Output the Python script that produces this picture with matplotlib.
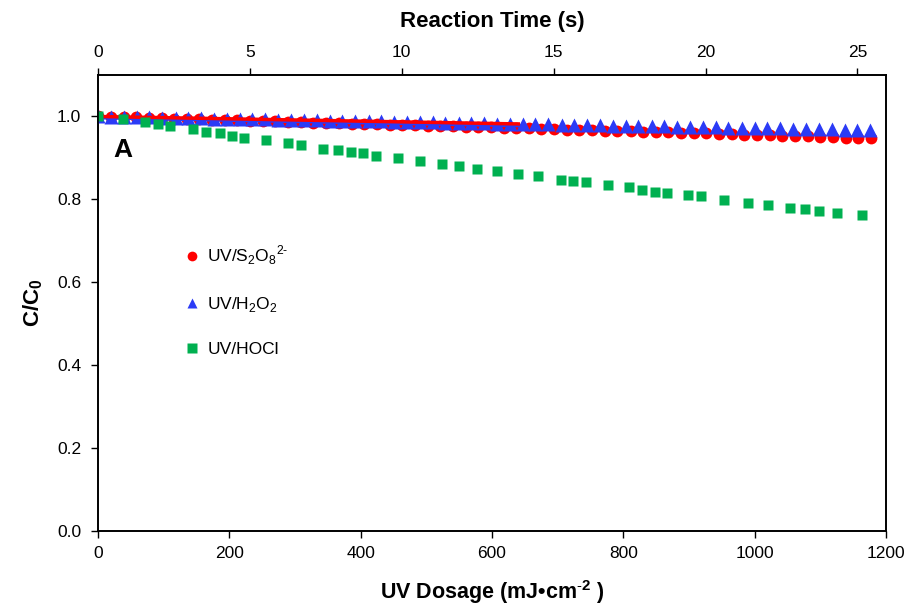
import matplotlib
matplotlib.use("Agg")
import matplotlib.pyplot as plt
from matplotlib.lines import Line2D

plt.rcParams['font.family'] = ['Liberation Sans', 'DejaVu Sans']
plt.rcParams['mathtext.fontset'] = 'custom'
plt.rcParams['mathtext.rm'] = 'Liberation Sans'
plt.rcParams['mathtext.bf'] = 'Liberation Sans:bold'

# UV/S2O8 2-
s2o8_dose = [0, 19, 39, 58, 77, 97, 116, 135, 154, 174, 193, 212, 232, 251, 270, 290,
	309, 328, 347, 367, 386, 405, 425, 444, 463, 482, 502, 521, 540, 560, 579, 598,
	618, 637, 656, 675, 695, 714, 733, 753, 772, 791, 811, 830, 849, 868, 888, 907,
	926, 946, 965, 984, 1004, 1023, 1042, 1061, 1081, 1100, 1119, 1139, 1158, 1177]
s2o8_c = [1.000, 0.999, 0.998, 0.998, 0.997, 0.996, 0.995, 0.994, 0.993, 0.992, 0.991,
	0.991, 0.990, 0.989, 0.988, 0.987, 0.986, 0.985, 0.985, 0.984, 0.983, 0.982, 0.981,
	0.980, 0.979, 0.979, 0.978, 0.977, 0.976, 0.975, 0.974, 0.974, 0.973, 0.972, 0.971,
	0.970, 0.969, 0.968, 0.968, 0.967, 0.966, 0.965, 0.964, 0.963, 0.962, 0.962, 0.961,
	0.960, 0.959, 0.958, 0.957, 0.956, 0.955, 0.955, 0.954, 0.953, 0.952, 0.951, 0.950,
	0.949, 0.948, 0.947]

# UV/H2O2
h2o2_dose = [0, 20, 39, 59, 78, 98, 118, 137, 157, 176, 196, 216, 235, 255, 274, 294,
	314, 333, 353, 372, 392, 412, 431, 451, 470, 490, 510, 529, 549, 568, 588, 608,
	627, 647, 666, 686, 706, 725, 745, 764, 784, 804, 823, 843, 862, 882, 902, 921,
	941, 960, 980, 1000, 1019, 1039, 1058, 1078, 1098, 1117, 1137, 1156, 1176]
h2o2_c = [1.000, 0.999, 0.999, 0.998, 0.998, 0.997, 0.997, 0.996, 0.996, 0.995, 0.995,
	0.994, 0.993, 0.993, 0.992, 0.992, 0.991, 0.991, 0.990, 0.990, 0.989, 0.988, 0.988,
	0.987, 0.987, 0.986, 0.986, 0.985, 0.985, 0.984, 0.984, 0.983, 0.982, 0.982, 0.981,
	0.981, 0.980, 0.980, 0.979, 0.979, 0.978, 0.977, 0.977, 0.976, 0.976, 0.975, 0.975,
	0.974, 0.974, 0.973, 0.973, 0.972, 0.971, 0.971, 0.970, 0.970, 0.969, 0.969, 0.968,
	0.968, 0.967]

# UV/HOCl
hocl_dose = [0, 38, 72, 91, 110, 145, 164, 186, 204, 223, 256, 289, 309, 342, 365, 385,
	404, 424, 457, 490, 524, 550, 577, 607, 639, 670, 705, 724, 743, 776, 809, 828,
	848, 867, 899, 918, 954, 990, 1021, 1054, 1077, 1098, 1126, 1163]
hocl_c = [1.000, 0.993, 0.986, 0.981, 0.977, 0.969, 0.962, 0.960, 0.952, 0.949, 0.944,
	0.936, 0.932, 0.922, 0.920, 0.914, 0.911, 0.904, 0.899, 0.892, 0.886, 0.880, 0.874,
	0.868, 0.862, 0.856, 0.847, 0.844, 0.841, 0.834, 0.829, 0.823, 0.819, 0.816, 0.810,
	0.807, 0.798, 0.792, 0.786, 0.779, 0.777, 0.773, 0.767, 0.762]

# fitted lines (early part)
fit_dose = [0, 640]
s2o8_fit = [1.000, 0.982]
h2o2_fit = [0.997, 0.978]

dose_max = 1200
time_max = 25.94  # s at 1200 mJ/cm2

red = '#FF0000'
blue = '#2B3BF6'
green = '#00B050'

fig = plt.figure(figsize=(9.12, 6.07), dpi=100)
ax = fig.add_axes([0.1075, 0.1252, 0.864, 0.7512])

ax.plot(s2o8_dose, s2o8_c, 'o', color=red, ms=8.5, mec='none', zorder=3)
ax.plot(h2o2_dose, h2o2_c, '^', color=blue, ms=9.5, mec='none', zorder=3)
ax.plot(fit_dose, h2o2_fit, '-', color=blue, lw=2.5, zorder=4)
ax.plot(fit_dose, s2o8_fit, '-', color=red, lw=2.5, zorder=4)
ax.plot(hocl_dose, hocl_c, 's', color=green, ms=7.5, mec='none', zorder=5)

ax.set_xlim(0, dose_max)
ax.set_ylim(0, 1.1)
ax.set_xticks([0, 200, 400, 600, 800, 1000, 1200])
ax.set_yticks([0.0, 0.2, 0.4, 0.6, 0.8, 1.0])
ax.set_yticklabels(['0.0', '0.2', '0.4', '0.6', '0.8', '1.0'])
ax.tick_params(axis='both', direction='out', length=5, width=1, labelsize=12.5)
ax.tick_params(axis='x', pad=6)
ax.tick_params(axis='y', pad=7)
for sp in ax.spines.values():
	sp.set_linewidth(1.2)

ax.set_xlabel(r'UV Dosage (mJ•cm$^{\mathbf{\text{-}2}}$ )', fontsize=15.5, fontweight='bold', labelpad=12)
ax.set_ylabel(r'C/C$_\mathbf{0}$', fontsize=16, fontweight='bold', labelpad=9)

ax.text(0.02, 0.835, 'A', transform=ax.transAxes, fontsize=19, fontweight='bold', va='center', ha='left')

top = ax.twiny()
top.set_xlim(0, time_max)
top.set_xticks([0, 5, 10, 15, 20, 25])
top.tick_params(axis='x', direction='out', length=5, width=1, labelsize=12.5, pad=6)
top.set_xlabel('Reaction Time (s)', fontsize=16, fontweight='bold', labelpad=13)
for sp in top.spines.values():
	sp.set_linewidth(1.2)

handles = [
	Line2D([], [], ls='none', marker='o', color=red, mec='none', ms=7),
	Line2D([], [], ls='none', marker='^', color=blue, mec='none', ms=7.5),
	Line2D([], [], ls='none', marker='s', color=green, mec='none', ms=6.5),
]
labels = [r'UV/S$_2$O$_8$$^{2\text{-}}$', r'UV/H$_2$O$_2$', 'UV/HOCl']
ax.legend(handles, labels, loc='upper left', bbox_to_anchor=(0.099, 0.645), frameon=False,
	fontsize=12.5, labelspacing=1.6, handlelength=1.0, handletextpad=0.4, borderaxespad=0)

fig.savefig('out.png', dpi=100)
